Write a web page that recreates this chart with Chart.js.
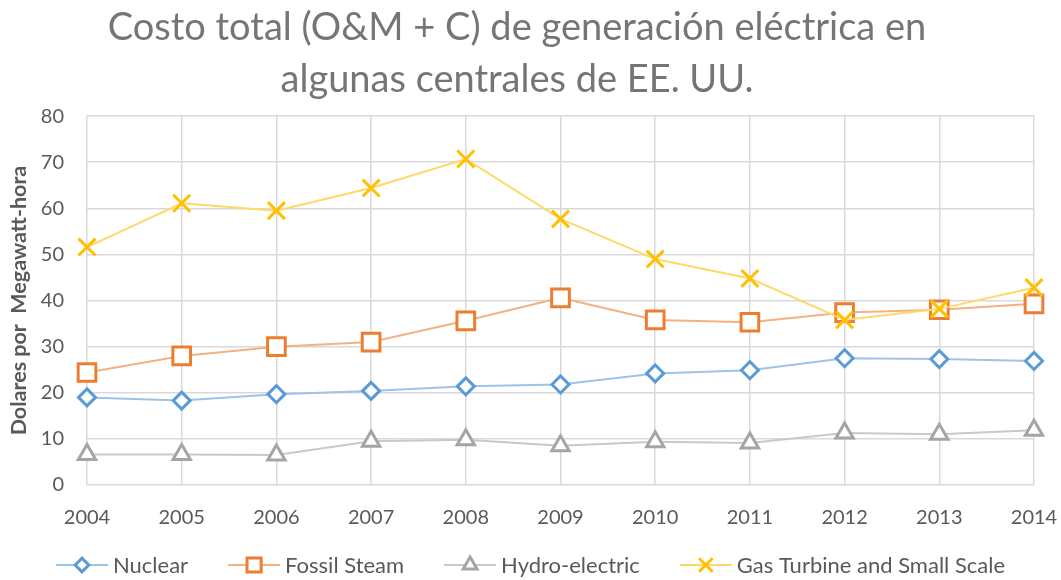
<!DOCTYPE html>
<html>
<head>
<meta charset="utf-8">
<script src="https://cdn.jsdelivr.net/npm/chart.js@4"></script>
<style>
  html, body { margin: 0; padding: 0; background: #fff; }
  #wrap { width: 1061px; height: 580px; position: relative; }
</style>
</head>
<body>
<div id="wrap"><canvas id="costChart"></canvas></div>
<script>
// Costo total de generacion (chart data)

const years = ["2004", "2005", "2006", "2007", "2008", "2009", "2010", "2011", "2012", "2013", "2014"];

const nuclear = [19.0, 18.3, 19.7, 20.4, 21.4, 21.8, 24.2, 24.9, 27.5, 27.3, 26.9];
const fossilSteam = [24.4, 28.0, 30.0, 31.0, 35.6, 40.6, 35.8, 35.3, 37.4, 38.0, 39.3];
const hydro = [6.6, 6.6, 6.5, 9.5, 9.8, 8.5, 9.4, 9.1, 11.3, 11.0, 11.9];
const gasTurbine = [51.6, 61.1, 59.5, 64.4, 70.7, 57.7, 49.0, 44.8, 35.8, 38.2, 42.8];

const seriesNames = ["Nuclear", "Fossil Steam", "Hydro-electric", "Gas Turbine and Small Scale"];
const titleLines = ["Costo total (O&M + C) de generación eléctrica en", "algunas centrales de EE. UU."];
const yTitle = "Dolares por  Megawatt-hora";

const theme = {
    text: "#595959",
    title: "#757575",
    grid: "#d9d9d9",
    font: "Lato"
};

// marker colour, line colour, marker style, radius
const styles = [
    { marker: "#5B9BD5", line: "#9DC3E6", shape: "rectRot", r: 8.5 },
    { marker: "#ED7D31", line: "#F4B183", shape: "rect", r: 12.5 },
    { marker: "#A5A5A5", line: "#C9C9C9", shape: "triangle", r: 10 },
    { marker: "#FFC000", line: "#FFD966", shape: "crossRot", r: 12 }
];

const allSeries = [nuclear, fossilSteam, hydro, gasTurbine];

const datasets = allSeries.map((values, i) => ({
    label: seriesNames[i],
    data: values,
    borderColor: styles[i].line,
    backgroundColor: styles[i].line,
    borderWidth: 2,
    tension: 0,
    pointStyle: styles[i].shape,
    pointRadius: styles[i].r,
    pointHoverRadius: styles[i].r,
    pointBackgroundColor: "#fff",
    pointBorderColor: styles[i].marker,
    pointBorderWidth: 3,
    order: 4 - i
}));

// legend at the bottom: line + marker + text
const bottomLegend = {
    id: "bottomLegend",
    afterDraw(chart) {
        const ctx = chart.ctx;
        const lineLen = 52, gap = 5, spacing = 40, y = 565;
        ctx.save();
        ctx.font = "22px " + theme.font;
        const widths = seriesNames.map(n => ctx.measureText(n).width);
        let total = 0;
        widths.forEach((w, i) => { total += lineLen + gap + w + (i < widths.length - 1 ? spacing : 0); });
        let x = (chart.width - total) / 2;
        seriesNames.forEach((name, i) => {
            const s = styles[i];
            ctx.strokeStyle = s.line;
            ctx.lineWidth = 2;
            ctx.beginPath();
            ctx.moveTo(x, y);
            ctx.lineTo(x + lineLen, y);
            ctx.stroke();
            ctx.fillStyle = "#fff";
            ctx.strokeStyle = s.marker;
            ctx.lineWidth = 3;
            Chart.helpers.drawPoint(ctx, { pointStyle: s.shape, radius: s.r * 0.8, borderWidth: 3 }, x + lineLen / 2, y);
            ctx.fillStyle = theme.text;
            ctx.textBaseline = "middle";
            ctx.textAlign = "left";
            ctx.fillText(name, x + lineLen + gap, y + 1);
            x += lineLen + gap + widths[i] + spacing;
        });
        ctx.restore();
    }
};

const ctx = document.getElementById("costChart");

new Chart(ctx, {
    type: "line",
    data: {
        labels: years,
        datasets: datasets
    },
    options: {
        responsive: true,
        maintainAspectRatio: false,
        animation: false,
        layout: {
            padding: { left: 0, right: 27, top: 0, bottom: 40 }
        },
        plugins: {
            legend: { display: false },
            tooltip: { enabled: false },
            title: {
                display: true,
                text: titleLines,
                color: theme.title,
                font: { family: theme.font, size: 38, weight: "normal", lineHeight: 1.37 },
                padding: { top: 2, bottom: 10 }
            }
        },
        scales: {
            x: {
                offset: false,
                // invisible tick marks push the labels down without widening the side padding
                grid: { color: theme.grid, lineWidth: 1.5, drawTicks: true, tickLength: 21, tickColor: "rgba(0,0,0,0)" },
                border: { display: false },
                ticks: {
                    color: theme.text,
                    font: { family: theme.font, size: 20 },
                    padding: 0,
                    maxRotation: 0,
                    autoSkip: false
                },
                afterFit(scale) { scale.height = 55; }
            },
            y: {
                min: 0,
                max: 80,
                grid: { color: theme.grid, lineWidth: 1.5, drawTicks: false },
                border: { display: false },
                ticks: {
                    stepSize: 10,
                    color: theme.text,
                    font: { family: theme.font, size: 20 },
                    padding: 23
                },
                title: {
                    display: true,
                    text: yTitle,
                    color: theme.text,
                    font: { family: theme.font, size: 21.5, weight: "bold" },
                    padding: { top: 6, bottom: 0 }
                },
                afterFit(scale) { scale.width = 87; }
            }
        }
    },
    plugins: [bottomLegend]
});
</script>
</body>
</html>
